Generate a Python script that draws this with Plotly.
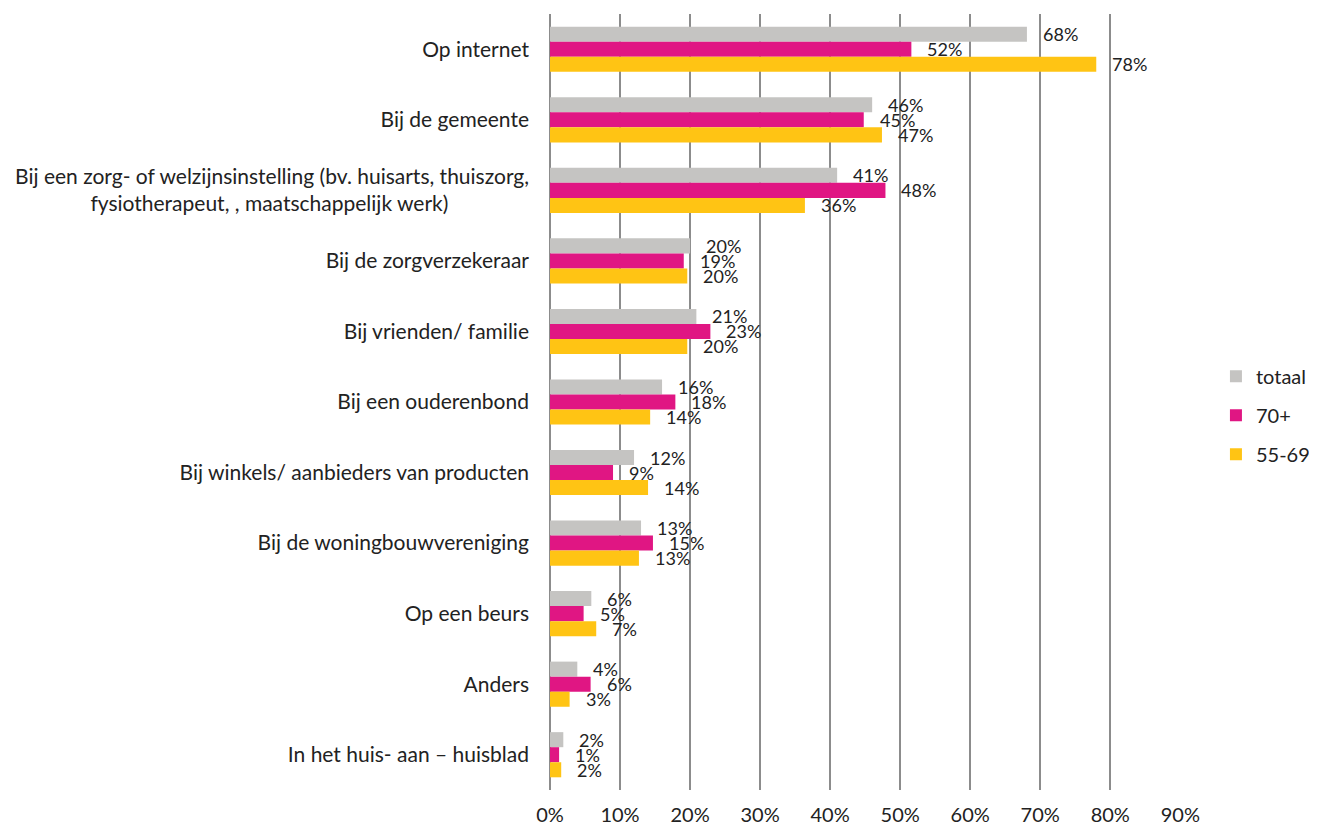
import plotly.graph_objects as go

NB = "\u00a0"
categories = [
    "Op internet",
    "Bij de gemeente",
    "Bij een zorg- of welzijnsinstelling (bv. huisarts, thuiszorg,<br>fysiotherapeut, , maatschappelijk werk)" + NB * 15,
    "Bij de zorgverzekeraar",
    "Bij vrienden/ familie",
    "Bij een ouderenbond",
    "Bij winkels/ aanbieders van producten",
    "Bij de woningbouwvereniging",
    "Op een beurs",
    "Anders",
    "In het huis- aan \u2013 huisblad",
]
totaal = [68.1, 46.0, 41.0, 20.0, 20.9, 16.0, 12.0, 13.0, 5.9, 3.9, 1.9]
plus70 = [51.6, 44.8, 47.9, 19.1, 22.9, 17.9, 9.0, 14.7, 4.8, 5.8, 1.3]
age5569 = [78.0, 47.4, 36.4, 19.6, 19.6, 14.3, 14.0, 12.7, 6.6, 2.8, 1.6]
labels_totaal = ["68%", "46%", "41%", "20%", "21%", "16%", "12%", "13%", "6%", "4%", "2%"]
labels_70 = ["52%", "45%", "48%", "19%", "23%", "18%", "9%", "15%", "5%", "6%", "1%"]
labels_5569 = ["78%", "47%", "36%", "20%", "20%", "14%", "14%", "13%", "7%", "3%", "2%"]
tick_vals = [0, 10, 20, 30, 40, 50, 60, 70, 80, 90]
tick_text = ["0%", "10%", "20%", "30%", "40%", "50%", "60%", "70%", "80%", "90%"]

series = [
    ("totaal", totaal, labels_totaal, "#C5C4C2", 15),
    ("70+", plus70, labels_70, "#E01683", 0),
    ("55-69", age5569, labels_5569, "#FFC414", -15),
]

FONT = "Lato, 'Open Sans', sans-serif"
fig = go.Figure()
annotations = []
for i, (name, vals, labs, col, ysh) in enumerate(series):
    fig.add_trace(go.Bar(
        y=categories, x=vals, name=name, orientation="h",
        marker=dict(color=col, line=dict(width=0)),
        legendgroup=name,
    ))
    for cat, v, t in zip(categories, vals, labs):
        annotations.append(dict(
            x=v, y=cat, text=t, showarrow=False, xanchor="left",
            xshift=14, yshift=ysh, font=dict(family=FONT, size=18, color="#222222"),
        ))

fig.update_layout(
    width=1309, height=819,
    margin=dict(l=542, r=136, t=6, b=37),
    paper_bgcolor="white", plot_bgcolor="white",
    barmode="group", bargap=0.36, bargroupgap=0,
    font=dict(family=FONT, size=20, color="#222222"),
    annotations=annotations,
    legend=dict(
        xref="container", yref="container",
        x=0.9228, y=0.5026, xanchor="left", yanchor="middle",
        font=dict(family=FONT, size=20, color="#222222"),
        tracegroupgap=10, itemwidth=30,
    ),
    xaxis=dict(
        range=[0, 90.1], tickvals=tick_vals, ticktext=tick_text,
        showgrid=True, gridcolor="#8C8C8C", gridwidth=2,
        zeroline=True, zerolinecolor="#8C8C8C", zerolinewidth=2,
        showline=False, ticks="", ticklabelstandoff=11, automargin=False,
        tickfont=dict(family=FONT, size=20, color="#222222"),
    ),
    yaxis=dict(
        autorange="reversed", showgrid=False, zeroline=False, showline=False,
        ticks="", ticklabelstandoff=20, automargin=False,
        tickfont=dict(family=FONT, size=21, color="#222222"),
    ),
)

fig.write_html("out.html")
